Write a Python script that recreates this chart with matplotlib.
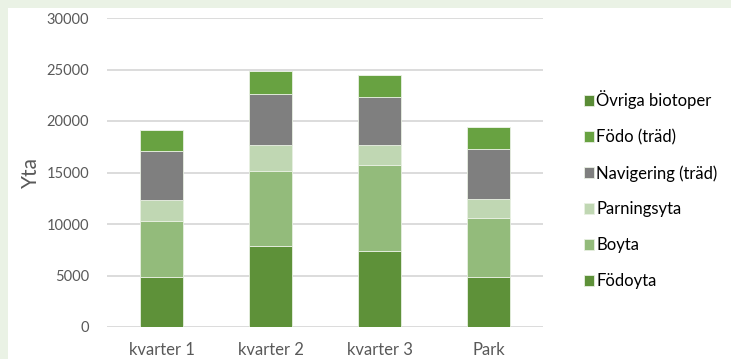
import matplotlib.pyplot as plt
import numpy as np
from matplotlib.patches import Rectangle

plt.rcParams["font.family"] = ["Lato", "DejaVu Sans"]

categories = ["kvarter 1", "kvarter 2", "kvarter 3", "Park"]
series_names = ["Födoyta", "Boyta", "Parningsyta", "Navigering (träd)",
                "Födo (träd)", "Övriga biotoper"]
fodoyta = [4880, 7890, 7370, 4880]
boyta = [5430, 7270, 8310, 5660]
parningsyta = [2010, 2490, 1970, 1910]
navigering = [4750, 5010, 4690, 4810]
fodo_trad = [2070, 2200, 2100, 2140]
ovriga = [0, 0, 0, 0]
yticks = [0, 5000, 10000, 15000, 20000, 25000, 30000]

series = [fodoyta, boyta, parningsyta, navigering, fodo_trad, ovriga]
colors = ["#5E9139", "#93BB7B", "#C0D7B3", "#7F7F7F", "#68A241", "#5A8C36"]

fig = plt.figure(figsize=(7.31, 3.59), dpi=100, facecolor="#EAF2E5")
# white chart area inside the light green frame
fig.patches.append(Rectangle((8 / 731, 0), 1, 1 - 8 / 359, transform=fig.transFigure,
                             facecolor="white", edgecolor="none", zorder=-5))

ax = fig.add_axes([107 / 731, 1 - 327 / 359, 436 / 731, 309 / 359])
ax.set_facecolor("none")

x = np.arange(len(categories))
bottom = np.zeros(len(categories))
handles = []
for name, vals, col in zip(series_names, series, colors):
    vals = np.array(vals, dtype=float)
    b = ax.bar(x, vals, 0.4, bottom=bottom, color=col, edgecolor="#E8F0E2",
               linewidth=0.6, label=name, zorder=3)
    handles.append(b)
    bottom += vals

ax.set_xlim(-0.5, len(categories) - 0.5)
ax.set_ylim(0, 30000)
ax.set_yticks(yticks)
ax.set_yticklabels([str(v) for v in yticks])
ax.set_xticks(x)
ax.set_xticklabels(categories)
ax.grid(axis="y", color="#D9D9D9", linewidth=1.3, zorder=0)
for s in ax.spines.values():
    s.set_visible(False)
ax.tick_params(axis="both", length=0, labelcolor="#595959")
ax.tick_params(axis="x", pad=10.5, labelsize=12)
ax.tick_params(axis="y", pad=13, labelsize=10.5)
ax.set_ylabel("Yta", fontsize=15, color="#595959", labelpad=4)

leg = ax.legend(handles[::-1], series_names[::-1], loc="upper left",
                bbox_to_anchor=(0.778, 0.79), bbox_transform=fig.transFigure,
                frameon=False, fontsize=12, handlelength=0.6, handleheight=0.6,
                handletextpad=0.15, labelspacing=1.19)

fig.savefig("out.png", dpi=100, facecolor=fig.get_facecolor())
